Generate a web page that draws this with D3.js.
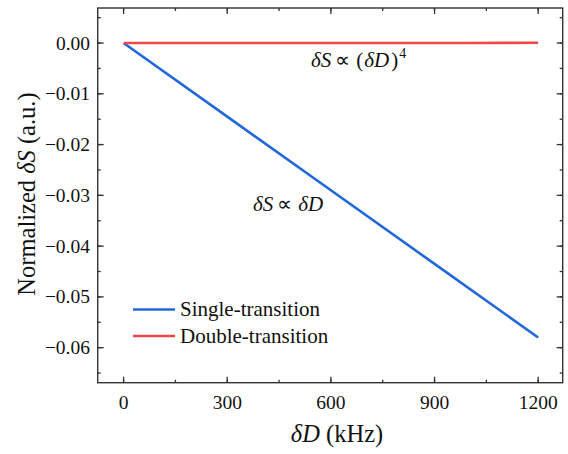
<!DOCTYPE html>
<html><head><meta charset="utf-8">
<script src="https://cdn.jsdelivr.net/npm/d3@7"></script>
<style>body{margin:0;background:#fff}svg{display:block}</style>
</head><body><div id="chart"></div>
<script>
const xTicks = [0, 300, 600, 900, 1200];
const yTicks = [0, -0.01, -0.02, -0.03, -0.04, -0.05, -0.06];
const singleX = [0, 300, 600, 900, 1200];
const singleY = [0, -0.0145, -0.029, -0.0435, -0.058];
const doubleX = [0, 300, 600, 900, 1000, 1100, 1200];
const doubleY = [0, 0, 0, 0.00001, 0.00002, 0.00003, 0.00005];
const seriesNames = ["Single-transition", "Double-transition"];
const seriesColors = ["#2168dc", "#f04848"];

const W = 568, H = 454;
const SERIF = "Liberation Serif";
const m = {l: 97.7, r: 562.7, t: 8, b: 382.7};
const svg = d3.select("#chart").append("svg").attr("width", W).attr("height", H);
const x = d3.scaleLinear().domain([-75, 1271]).range([m.l, m.r]);
const y = d3.scaleLinear().domain([-0.0669, 0.0069]).range([m.b, m.t]);

const g = svg.append("g");
const minorX = d3.range(0, 1201, 150);
const minorY = d3.range(-0.065, 0.0051, 0.005);
function tickLines(vals, len, side) {
  vals.forEach(v => {
    if (side === "bottom") g.append("line").attr("x1", x(v)).attr("x2", x(v)).attr("y1", m.b).attr("y2", m.b - len);
    if (side === "top") g.append("line").attr("x1", x(v)).attr("x2", x(v)).attr("y1", m.t).attr("y2", m.t + len);
    if (side === "left") g.append("line").attr("y1", y(v)).attr("y2", y(v)).attr("x1", m.l).attr("x2", m.l + len);
    if (side === "right") g.append("line").attr("y1", y(v)).attr("y2", y(v)).attr("x1", m.r).attr("x2", m.r - len);
  });
}
tickLines(minorX, 3, "bottom"); tickLines(xTicks, 6, "bottom");
tickLines(minorX, 3, "top"); tickLines(xTicks, 6, "top");
tickLines(minorY, 3, "left"); tickLines(yTicks, 6, "left");
tickLines(minorY, 3, "right"); tickLines(yTicks, 6, "right");
g.selectAll("line").attr("stroke", "#333").attr("stroke-width", 1.3);

svg.append("rect").attr("x", m.l).attr("y", m.t).attr("width", m.r - m.l).attr("height", m.b - m.t)
  .attr("fill", "none").attr("stroke", "#333").attr("stroke-width", 1.4);

function T(sel) { return sel.style("font-family", SERIF).attr("fill", "#111"); }

T(svg.selectAll(".xt").data(xTicks).enter().append("text"))
  .attr("x", d => x(d)).attr("y", 409).attr("text-anchor", "middle").attr("font-size", 19.5).text(d => d);
T(svg.selectAll(".yt").data(yTicks).enter().append("text"))
  .attr("x", 90).attr("y", d => y(d) + 6.5).attr("text-anchor", "end").attr("font-size", 19.5)
  .text(d => d === 0 ? "0.00" : "\u2212" + Math.abs(d).toFixed(2));

const xl = T(svg.append("text")).attr("x", 337).attr("y", 442).attr("text-anchor", "middle").attr("font-size", 24.5);
xl.append("tspan").attr("font-style", "italic").text("\u03B4D");
xl.append("tspan").text(" (kHz)");
const yl = T(svg.append("text")).attr("transform", "translate(35,194) rotate(-90)").attr("text-anchor", "middle").attr("font-size", 24.5);
yl.append("tspan").text("Normalized ");
yl.append("tspan").attr("font-style", "italic").text("\u03B4S");
yl.append("tspan").text(" (a.u.)");

const line = d3.line().x(d => x(d[0])).y(d => y(d[1]));
svg.append("path").datum(singleX.map((v, i) => [v, singleY[i]])).attr("d", line)
  .attr("fill", "none").attr("stroke", seriesColors[0]).attr("stroke-width", 2.6);
svg.append("path").datum(doubleX.map((v, i) => [v, doubleY[i]])).attr("d", line)
  .attr("fill", "none").attr("stroke", seriesColors[1]).attr("stroke-width", 2.6);

const a1 = T(svg.append("text")).attr("x", 311).attr("y", 67).attr("font-size", 21);
a1.append("tspan").attr("font-style", "italic").text("\u03B4S");
a1.append("tspan").attr("dx", 4).text("\u221D");
a1.append("tspan").attr("dx", 6).text("(");
a1.append("tspan").attr("dx", 1).attr("font-style", "italic").text("\u03B4D");
a1.append("tspan").attr("dx", 2).text(")");
a1.append("tspan").attr("dx", 1).attr("dy", -9).attr("font-size", 14).text("4");
const a2 = T(svg.append("text")).attr("x", 253).attr("y", 211).attr("font-size", 21);
a2.append("tspan").attr("font-style", "italic").text("\u03B4S");
a2.append("tspan").attr("dx", 4).text("\u221D");
a2.append("tspan").attr("dx", 6).attr("font-style", "italic").text("\u03B4D");

const legY = [309.5, 336];
seriesNames.forEach((n, i) => {
  svg.append("line").attr("x1", 133).attr("x2", 175).attr("y1", legY[i]).attr("y2", legY[i])
    .attr("stroke", seriesColors[i]).attr("stroke-width", 2.6);
  T(svg.append("text")).attr("x", 180).attr("y", legY[i] + 6.5).attr("font-size", 21).text(n);
});
</script></body></html>
